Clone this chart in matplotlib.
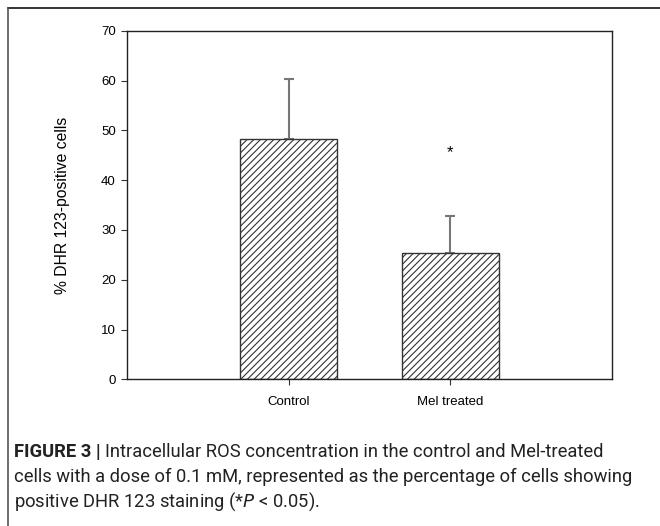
import numpy as np
import matplotlib.pyplot as plt
from matplotlib.lines import Line2D

plt.rcParams['font.family'] = ['Liberation Sans', 'DejaVu Sans']
plt.rcParams['hatch.linewidth'] = 0.8
plt.rcParams['hatch.color'] = '#222222'

# data
groups = ['Control', 'Mel treated']
means = [48.3, 25.3]
errors = [12.0, 7.5]
sig_marks = ['', '*']
sig_y = [None, 45.5]
yticks = [0, 10, 20, 30, 40, 50, 60, 70]

fig = plt.figure(figsize=(6.6, 5.26), dpi=100)
ax = fig.add_axes([0.1924, 0.2789, 0.7348, 0.6627])

x = np.arange(1, len(groups) + 1)
ax.bar(x, means, width=0.6, color='white', edgecolor='#333333',
       linewidth=1.0, hatch='/////', zorder=2)
ax.errorbar(x, means, yerr=[np.zeros(len(errors)), errors], fmt='none',
            ecolor='#777777', elinewidth=1.5, capsize=3.5, capthick=1.5, zorder=1)
for xi, s, sy in zip(x, sig_marks, sig_y):
    if s:
        ax.text(xi, sy, s, ha='center', va='center', fontsize=12)

ax.set_xlim(0, 3)
ax.set_ylim(0, 70)
ax.set_xticks(x)
ax.set_xticklabels(groups, fontsize=9.5)
ax.set_yticks(yticks)
ax.set_yticklabels([str(t) for t in yticks], fontsize=9.5)
ax.tick_params(direction='out', length=4, width=0.8, color='#333333', pad=4)
ax.tick_params(axis='x', pad=8)
for sp in ax.spines.values():
    sp.set_linewidth(1.0)
    sp.set_color('#222222')
ax.set_ylabel('% DHR 123-positive cells', fontsize=11.3, labelpad=22)

# outer frame of the figure panel
fig.add_artist(Line2D([8 / 660, 1], [1 - 8 / 526, 1 - 8 / 526],
                      transform=fig.transFigure, color='#111111', lw=1.2))
fig.add_artist(Line2D([8 / 660, 8 / 660], [0, 1 - 8 / 526],
                      transform=fig.transFigure, color='#555555', lw=1.2))

# caption
cap_font = ['Roboto', 'DejaVu Sans']
cap_size = 13.2
cap_col = '#222222'
head = fig.text(14 / 660, 1 - 452 / 526, 'FIGURE 3 | ', fontsize=cap_size,
                fontweight='bold', family=cap_font, va='center', color=cap_col)
fig.canvas.draw()
bb = head.get_window_extent()
fig.text(bb.x1 / 660, 1 - 452 / 526,
         'Intracellular ROS concentration in the control and Mel-treated',
         fontsize=cap_size, family=cap_font, va='center', color=cap_col)
fig.text(14 / 660, 1 - 477 / 526,
         'cells with a dose of 0.1 mM, represented as the percentage of cells showing',
         fontsize=cap_size, family=cap_font, va='center', color=cap_col)
fig.text(14 / 660, 1 - 502 / 526,
         r'positive DHR 123 staining (*$P$ < 0.05).',
         fontsize=cap_size, family=cap_font, va='center', color=cap_col)

plt.savefig('out.png', dpi=100)
